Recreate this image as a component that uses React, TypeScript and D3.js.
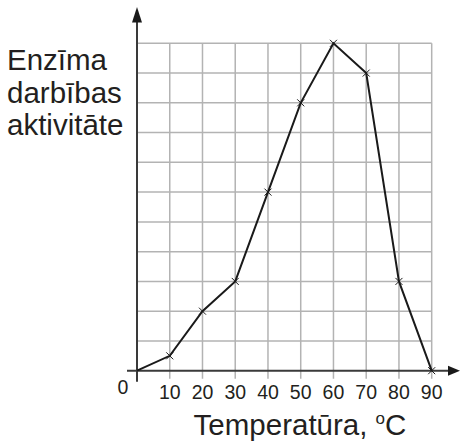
import React from "react";
import * as d3 from "d3";

const temperatures = [0, 10, 20, 30, 40, 50, 60, 70, 80, 90];
const activity = [0, 0.5, 2, 3, 6, 9, 11, 10, 3, 0];
const xTicks = [10, 20, 30, 40, 50, 60, 70, 80, 90];
const yGridValues = [1, 2, 3, 4, 5, 6, 7, 8, 9, 10, 11];
const yLabelLines = ["Enzīma", "darbības", "aktivitāte"];
const xTitle = "Temperatūra, ";

const W = 460;
const H = 441;
const x0 = 137;
const x1 = 431.7;
const yBase = 370.7;
const yTop = 43.3;

export default function App() {
  const x = d3.scaleLinear().domain([0, 90]).range([x0, x1]);
  const y = d3.scaleLinear().domain([0, 11]).range([yBase, yTop]);
  const pts = temperatures.map((t, i) => [t, activity[i]] as [number, number]);
  const line = d3
    .line<[number, number]>()
    .x((d) => x(d[0]))
    .y((d) => y(d[1]));
  const font = "'Liberation Sans', Arial, sans-serif";
  const textColor = "#231f20";
  const grid = "#b3b3b3";
  const axis = "#3a3a3a";
  const m = 3.5;

  return (
    <svg
      width={W}
      height={H}
      style={{ position: "absolute", left: 0, top: 0 }}
      fontFamily={font}
    >
      <rect x={0} y={0} width={W} height={H} fill="#fff" />
      {yGridValues.map((v) => (
        <line
          key={"h" + v}
          x1={x0}
          x2={x1}
          y1={y(v)}
          y2={y(v)}
          stroke={grid}
          strokeWidth={1.5}
        />
      ))}
      {xTicks.map((t) => (
        <line
          key={"v" + t}
          x1={x(t)}
          x2={x(t)}
          y1={yTop}
          y2={yBase + 8}
          stroke={grid}
          strokeWidth={1.5}
        />
      ))}
      <line x1={127} x2={450} y1={yBase} y2={yBase} stroke={axis} strokeWidth={2} />
      <line x1={x0} x2={x0} y1={yBase + 11} y2={20} stroke={axis} strokeWidth={2} />
      <path
        d={`M460,${yBase} L448,${yBase - 5} L448,${yBase + 5} Z`}
        fill="#1a1a1a"
      />
      <path d={`M${x0},7 L${x0 - 5},22.5 L${x0 + 5},22.5 Z`} fill="#1a1a1a" />
      <path d={line(pts) || ""} fill="none" stroke="#1a1a1a" strokeWidth={2} strokeLinejoin="miter" />
      {pts.slice(1).map((d, i) => (
        <g key={"m" + i} stroke="#1a1a1a" strokeWidth={1}>
          <line x1={x(d[0]) - m} x2={x(d[0]) + m} y1={y(d[1]) - m} y2={y(d[1]) + m} />
          <line x1={x(d[0]) - m} x2={x(d[0]) + m} y1={y(d[1]) + m} y2={y(d[1]) - m} />
        </g>
      ))}
      {xTicks.map((t) => (
        <text
          key={"t" + t}
          x={x(t)}
          y={399}
          textAnchor="middle"
          fontSize={19.5}
          fill={textColor}
        >
          {t}
        </text>
      ))}
      <text x={123} y={394} textAnchor="middle" fontSize={19.5} fill={textColor}>
        0
      </text>
      <text x={300} y={435} textAnchor="middle" fontSize={29.5} fill={textColor}>
        {xTitle}
        <tspan fontSize={17} dy={-11}>o</tspan>
        <tspan dy={11}>C</tspan>
      </text>
      {yLabelLines.map((s, i) => (
        <text key={s} x={7} y={70 + i * 32.5} fontSize={29.5} fill={textColor}>
          {s}
        </text>
      ))}
    </svg>
  );
}
